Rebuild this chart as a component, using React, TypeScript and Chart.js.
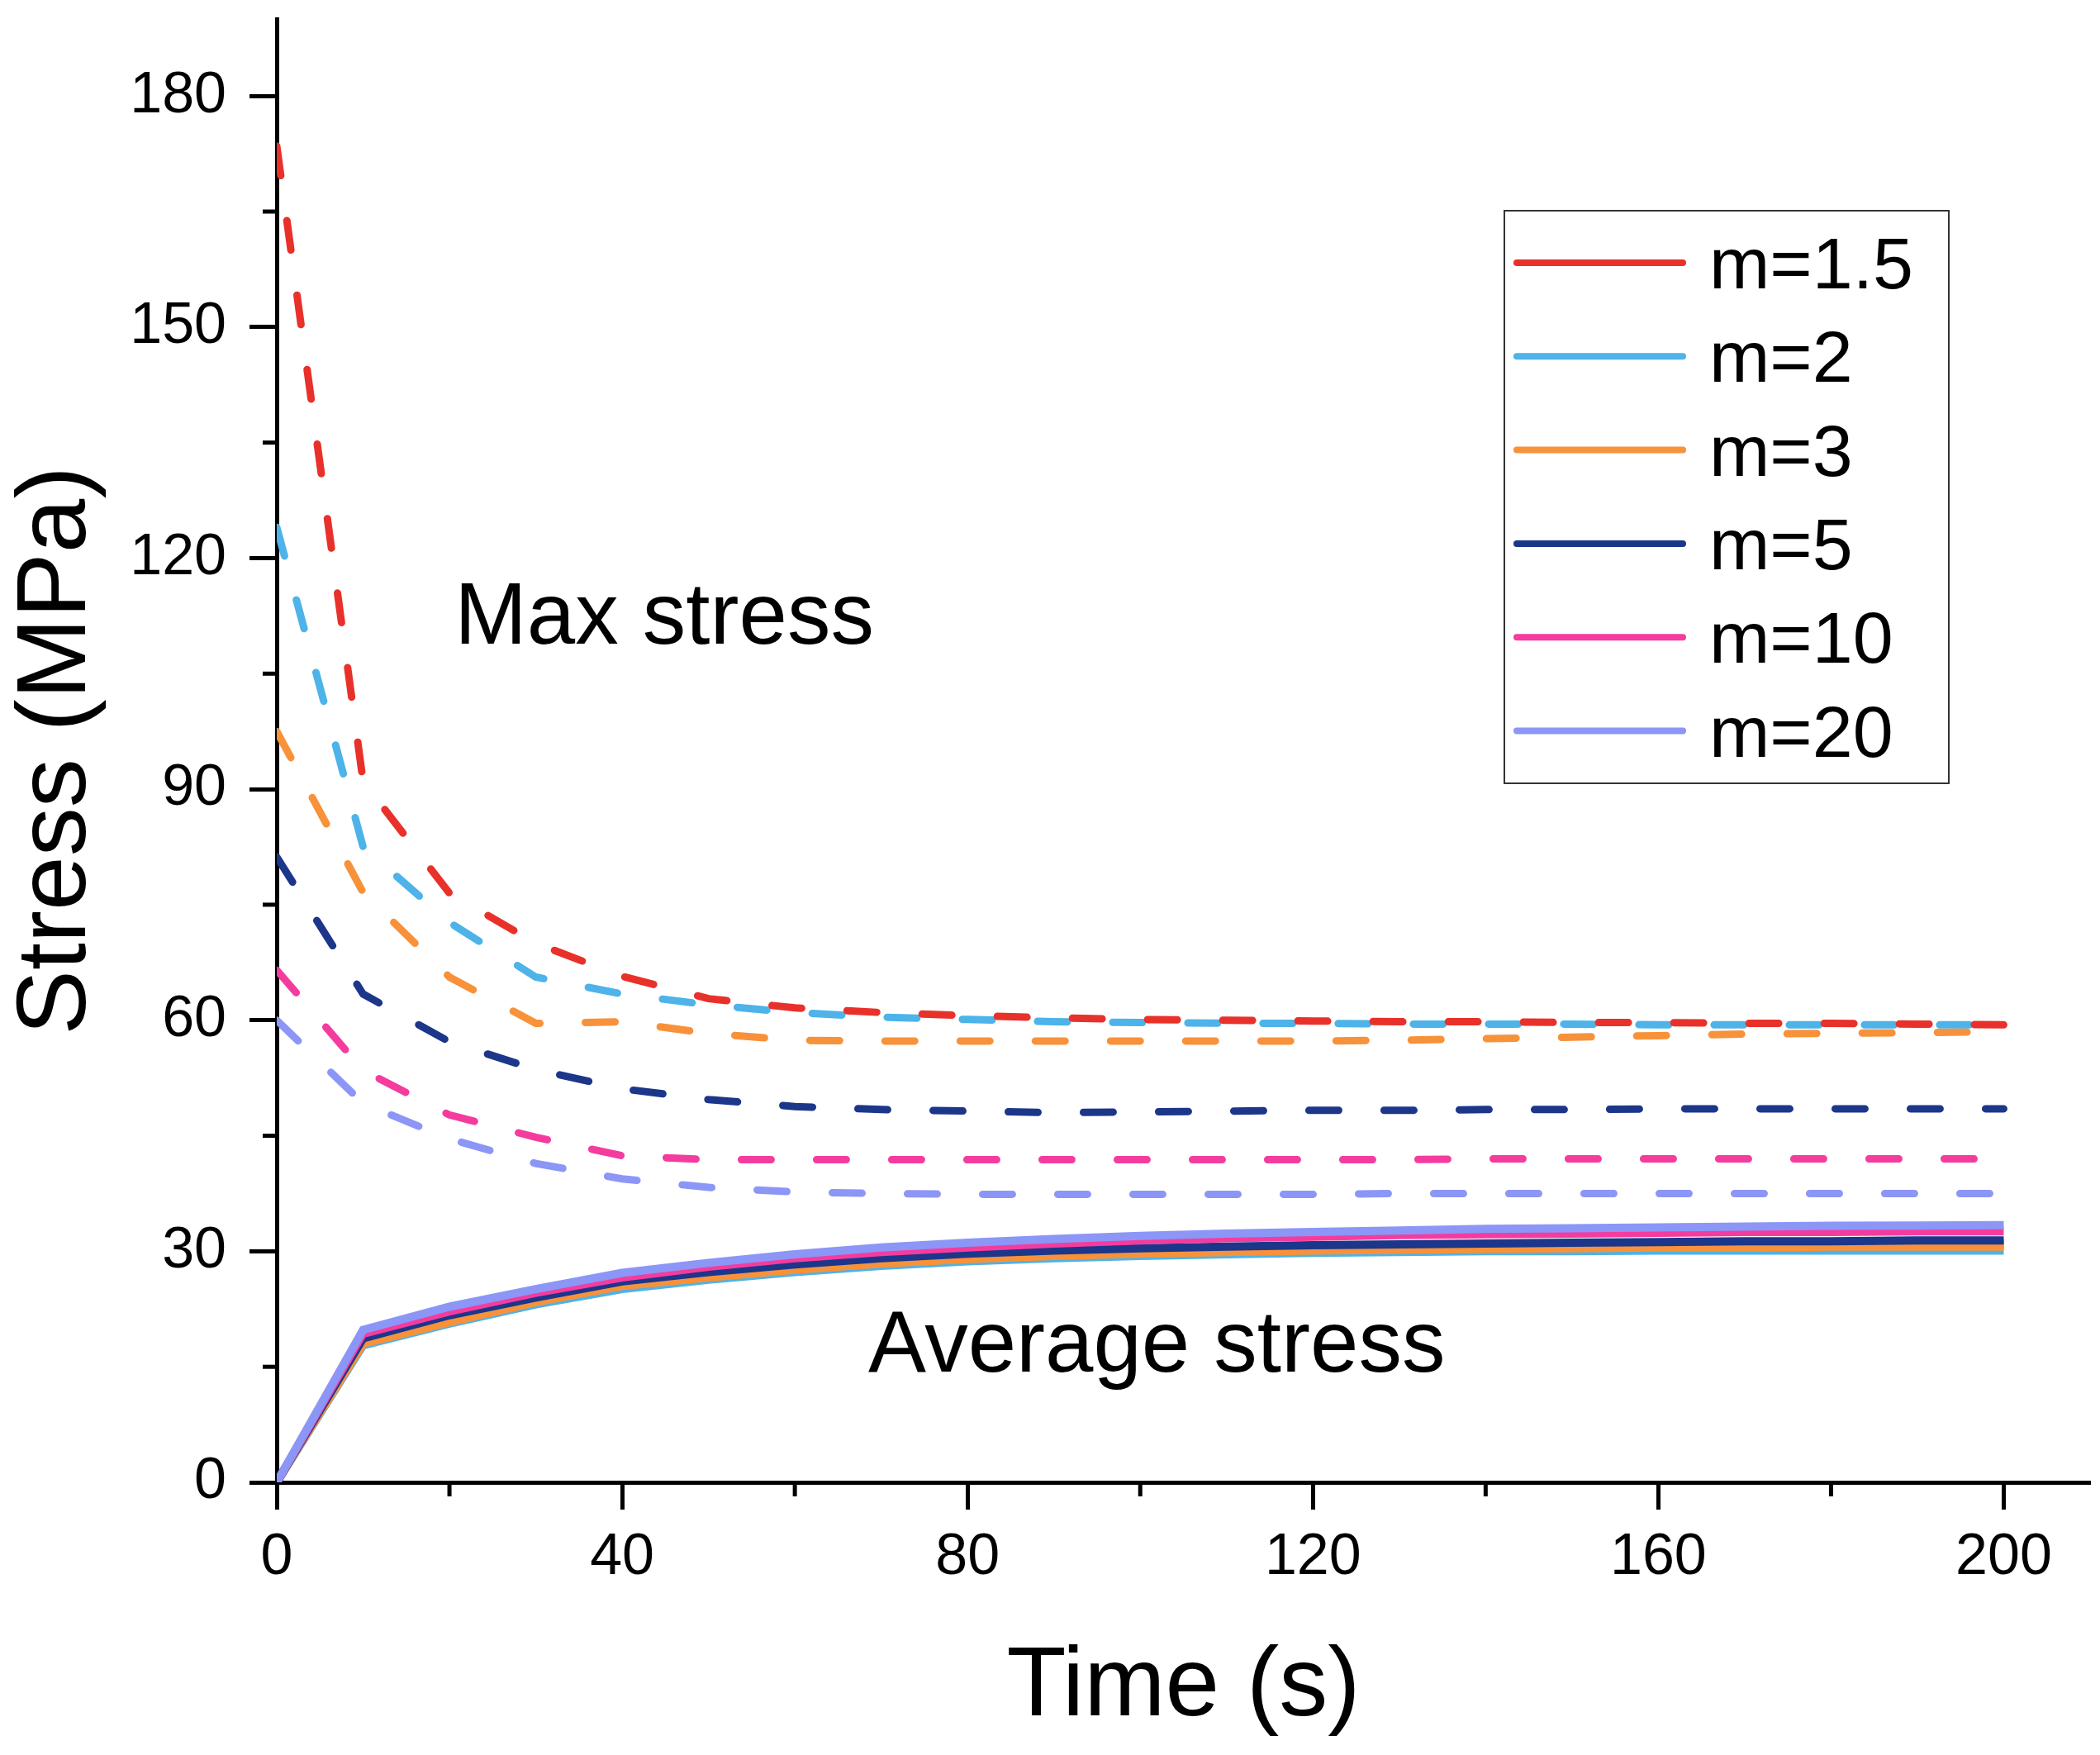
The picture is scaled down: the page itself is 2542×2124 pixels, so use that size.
import { useEffect, useRef } from "react"
import { Chart, registerables, type Plugin } from "chart.js"

Chart.register(...registerables)

const FONT = "'Liberation Sans', Arial, sans-serif"

// time axis, sampled every 10 s
const timeS = [0, 10, 20, 30, 40, 50, 60, 70, 80, 90, 100, 110, 120, 130, 140, 150, 160, 170, 180, 190, 200]

const mLabels = ["m=1.5", "m=2", "m=3", "m=5", "m=10", "m=20"]
const mColors = ["#E8312A", "#4DB3E8", "#F7923A", "#1C368A", "#F43C9F", "#8C96F6"]

// max stress (dashed), MPa
const maxM15 = [173.5, 91, 76.5, 70, 65.7, 62.8, 61.6, 61.0, 60.6, 60.3, 60.1, 60.0, 59.9, 59.8, 59.8, 59.7, 59.7, 59.6, 59.6, 59.5, 59.4]
const maxM2 = [124, 82.5, 72.7, 65.6, 63.4, 62.0, 61.0, 60.4, 60.1, 59.8, 59.7, 59.6, 59.6, 59.5, 59.5, 59.5, 59.4, 59.4, 59.4, 59.4, 59.4]
const maxM3 = [97.5, 76.6, 65.6, 59.6, 59.8, 58.3, 57.4, 57.3, 57.3, 57.3, 57.3, 57.3, 57.3, 57.4, 57.6, 57.8, 58.0, 58.2, 58.3, 58.4, 58.5]
const maxM5 = [81.2, 63.4, 57.2, 53.6, 51.1, 49.7, 48.8, 48.4, 48.2, 48.0, 48.1, 48.2, 48.3, 48.3, 48.4, 48.4, 48.5, 48.5, 48.5, 48.5, 48.5]
const maxM10 = [66.5, 53.5, 47.7, 44.8, 42.4, 41.9, 41.9, 41.9, 41.9, 41.9, 41.9, 41.9, 41.9, 41.9, 42.0, 42.0, 42.0, 42.0, 42.0, 42.0, 42.0]
const maxM20 = [60, 49.2, 44.6, 41.4, 39.4, 38.3, 37.7, 37.5, 37.4, 37.4, 37.4, 37.4, 37.4, 37.5, 37.5, 37.5, 37.5, 37.5, 37.5, 37.5, 37.5]

// average stress (solid), MPa
const avgM15 = [0, 18.4, 21.3, 23.7, 25.7, 27.0, 28.0, 28.8, 29.4, 29.8, 30.1, 30.3, 30.5, 30.6, 30.7, 30.8, 30.9, 30.9, 31.0, 31.0, 31.0]
const avgM2 = [0, 17.8, 20.6, 23.1, 25.1, 26.3, 27.3, 28.1, 28.7, 29.1, 29.4, 29.6, 29.8, 29.9, 30.0, 30.0, 30.1, 30.1, 30.1, 30.1, 30.1]
const avgM3 = [0, 18.0, 20.8, 23.4, 25.5, 26.6, 27.6, 28.4, 29.0, 29.4, 29.7, 29.9, 30.1, 30.2, 30.3, 30.4, 30.5, 30.5, 30.6, 30.6, 30.6]
const avgM5 = [0, 18.7, 21.7, 24.0, 26.1, 27.3, 28.3, 29.1, 29.7, 30.1, 30.4, 30.6, 30.8, 30.9, 31.0, 31.1, 31.2, 31.3, 31.3, 31.4, 31.4]
const avgM10 = [0, 19.3, 22.2, 24.6, 26.6, 28.0, 29.1, 29.9, 30.5, 31.0, 31.4, 31.7, 31.9, 32.1, 32.2, 32.3, 32.4, 32.5, 32.5, 32.6, 32.6]
const avgM20 = [0, 19.8, 22.8, 25.1, 27.2, 28.5, 29.6, 30.5, 31.1, 31.6, 32.0, 32.3, 32.5, 32.7, 32.9, 33.0, 33.1, 33.2, 33.3, 33.35, 33.4]

const maxSeries = [maxM15, maxM2, maxM3, maxM5, maxM10, maxM20]
const avgSeries = [avgM15, avgM2, avgM3, avgM5, avgM10, avgM20]

const yMinorTicks = [15, 45, 75, 105, 135, 165]
const xMinorTicks = [20, 60, 100, 140, 180]

const annotations = [
  { text: "Max stress", x: 20.6, y: 108.9 },
  { text: "Average stress", x: 68.5, y: 14.4 },
]

const extras: Plugin<"line"> = {
  id: "extras",
  afterDraw(chart) {
    const { ctx, chartArea, scales } = chart
    const xs = scales.x
    const ys = scales.y
    ctx.save()

    // minor ticks
    ctx.strokeStyle = "#000"
    ctx.lineWidth = 5
    ctx.lineCap = "butt"
    yMinorTicks.forEach((v) => {
      const py = ys.getPixelForValue(v)
      ctx.beginPath()
      ctx.moveTo(chartArea.left - 17, py)
      ctx.lineTo(chartArea.left, py)
      ctx.stroke()
    })
    xMinorTicks.forEach((v) => {
      const px = xs.getPixelForValue(v)
      ctx.beginPath()
      ctx.moveTo(px, chartArea.bottom)
      ctx.lineTo(px, chartArea.bottom + 17)
      ctx.stroke()
    })

    // text labels
    ctx.fillStyle = "#000"
    ctx.font = `105px ${FONT}`
    ctx.textAlign = "left"
    ctx.textBaseline = "alphabetic"
    annotations.forEach((a) => {
      ctx.fillText(a.text, xs.getPixelForValue(a.x), ys.getPixelForValue(a.y))
    })

    // legend box, entries in the order of mLabels
    ctx.strokeStyle = "#333"
    ctx.lineWidth = 2
    ctx.strokeRect(1821, 255, 538, 693)
    const items = chart.data.datasets
      .filter((d: any) => !d.borderDash)
      .sort((a: any, b: any) => mLabels.indexOf(a.label) - mLabels.indexOf(b.label))
    items.forEach((ds: any, i) => {
      const y = 318 + i * 113.3
      ctx.strokeStyle = ds.borderColor
      ctx.lineWidth = 8
      ctx.lineCap = "round"
      ctx.beginPath()
      ctx.moveTo(1836, y)
      ctx.lineTo(2037, y)
      ctx.stroke()
      ctx.fillStyle = "#000"
      ctx.font = `88px ${FONT}`
      ctx.fillText(ds.label, 2069, y + 31)
    })
    ctx.restore()
  },
}

export default function App() {
  const canvasRef = useRef<HTMLCanvasElement>(null)
  const chartRef = useRef<Chart | null>(null)

  useEffect(() => {
    document.body.style.margin = "0"
    if (!canvasRef.current) return
    if (chartRef.current) chartRef.current.destroy()

    const dashed = maxSeries.map((vals, i) => ({
      label: "",
      data: vals.map((v, j) => ({ x: timeS[j], y: v })),
      borderColor: mColors[i],
      borderWidth: 9,
      borderDash: [36, 55],
      borderCapStyle: "round" as const,
      pointRadius: 0,
      tension: 0,
    }))
    const solid = avgSeries.map((vals, i) => ({
      label: mLabels[i],
      data: vals.map((v, j) => ({ x: timeS[j], y: v })),
      borderColor: mColors[i],
      borderWidth: 10,
      pointRadius: 0,
      tension: 0,
    }))

    chartRef.current = new Chart(canvasRef.current, {
      type: "line",
      // reversed so that m=20 is painted on top of the solid bundle
      data: { datasets: [...solid.slice().reverse(), ...dashed] as any },
      options: {
        responsive: false,
        animation: false,
        devicePixelRatio: 1,
        layout: { padding: { left: 0, right: 12, top: 23, bottom: 0 } },
        plugins: { legend: { display: false }, tooltip: { enabled: false } },
        scales: {
          x: {
            type: "linear",
            min: 0,
            max: 210,
            grid: { drawOnChartArea: false, drawTicks: true, tickLength: 33, tickWidth: 5, tickColor: "#000" },
            border: { color: "#000", width: 5 },
            ticks: { stepSize: 40, includeBounds: false, padding: 17, color: "#000", font: { family: FONT, size: 70 }, maxRotation: 0 },
            title: { display: true, text: "Time (s)", color: "#000", font: { family: FONT, size: 118, lineHeight: 1 }, padding: { top: 0, bottom: 22 } },
            afterFit: (s: any) => {
              s.height = 330
              s.paddingLeft = 0
              s.paddingRight = 0
            },
          },
          y: {
            type: "linear",
            min: 0,
            max: 190,
            grid: { drawOnChartArea: false, drawTicks: true, tickLength: 33, tickWidth: 5, tickColor: "#000" },
            border: { color: "#000", width: 5 },
            ticks: { stepSize: 30, includeBounds: false, padding: 28, color: "#000", font: { family: FONT, size: 70 } },
            title: { display: true, text: "Stress (MPa)", color: "#000", font: { family: FONT, size: 118, lineHeight: 1 }, padding: { top: 11, bottom: 0 } },
            afterFit: (s: any) => {
              s.width = 335
              s.paddingTop = 0
              s.paddingBottom = 0
            },
          },
        },
      },
      plugins: [extras],
    })

    return () => {
      if (chartRef.current) {
        chartRef.current.destroy()
        chartRef.current = null
      }
    }
  }, [])

  return (
    <div style={{ width: 2542, height: 2124, overflow: "hidden", background: "#fff" }}>
      <canvas ref={canvasRef} width={2542} height={2124} style={{ display: "block" }} />
    </div>
  )
}
